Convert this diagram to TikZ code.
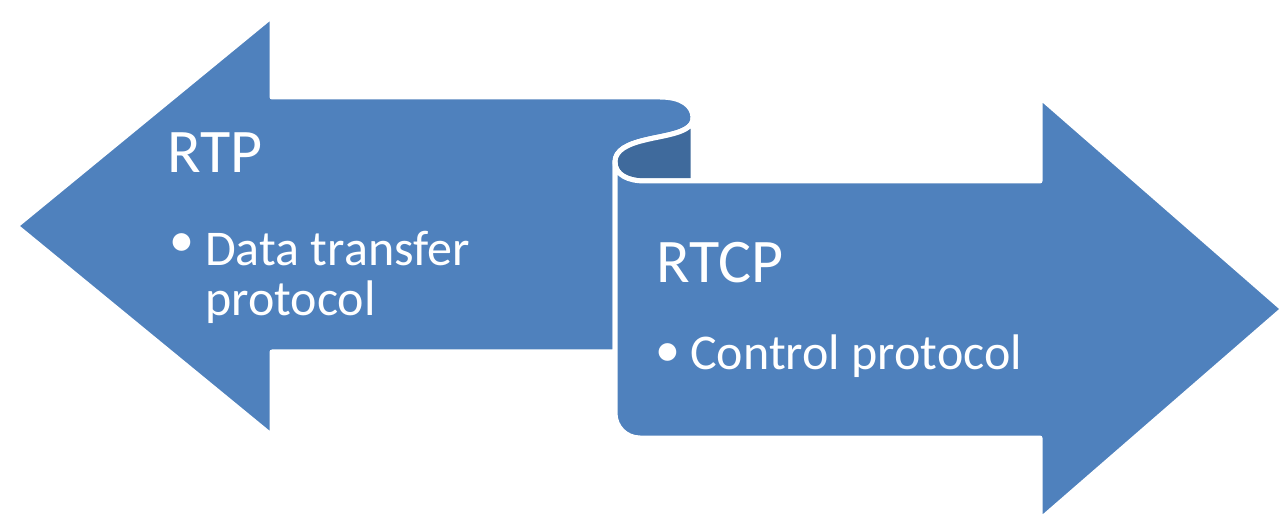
\documentclass[tikz,border=0pt]{standalone}
\usepackage{fontspec}
\setmainfont{Carlito}
\definecolor{ribbon}{HTML}{4F81BD}
\definecolor{ribbondark}{HTML}{3F6A9C}
\begin{document}
\begin{tikzpicture}[x=1pt,y=-1pt,
  ribbonshape/.style={fill=ribbon,draw=white,line width=5pt,line join=round},
  backface/.style={fill=ribbondark,draw=white,line width=5pt,line join=round},
  titletxt/.style={text=white,font=\fontsize{62}{62}\selectfont,inner sep=0pt,anchor=base west},
  txt/.style={text=white,font=\fontsize{50}{50}\selectfont,inner sep=0pt,anchor=base west},
  bulletdot/.style={text=white,font=\fontsize{50}{50}\selectfont,inner sep=0pt,anchor=center}]
\useasboundingbox (0,0) rectangle (1287,526);
% left arrow with curl top
\path[ribbonshape] (272,97) -- (660,97) .. controls (682,97) and (693,106) .. (693,118)
  .. controls (693,133) and (665,135) .. (645,140)
  .. controls (628,144) and (615,150) .. (615,162)
  -- (615,352) -- (272,352) -- (272,436) -- (16,226) -- (272,16) -- cycle;
% back face of the curl
\path[backface] (693,118) -- (693,181) -- (645,181)
  .. controls (628,181) and (615,175) .. (615,162)
  .. controls (615,150) and (628,144) .. (645,140)
  .. controls (665,135) and (693,133) .. (693,118) -- cycle;
% right arrow
\path[ribbonshape] (615,162) .. controls (615,175) and (628,181) .. (645,181)
  -- (1040,181) -- (1040,97) -- (1283,309) -- (1040,520) -- (1040,438)
  -- (640,438) .. controls (626,438) and (615,427) .. (615,413) -- cycle;
% texts
\node[titletxt] (rtp) at (167,173) {RTP};
\node[bulletdot] (b1) at (182,245) {•};
\node[txt] (d1) at (205,266) {Data transfer};
\node[txt] (d2) at (205,316) {protocol};
\node[titletxt] (rtcp) at (656,283) {RTCP};
\node[bulletdot] (b2) at (668,355) {•};
\node[txt] (c1) at (690,369) {Control protocol};
\end{tikzpicture}
\end{document}
